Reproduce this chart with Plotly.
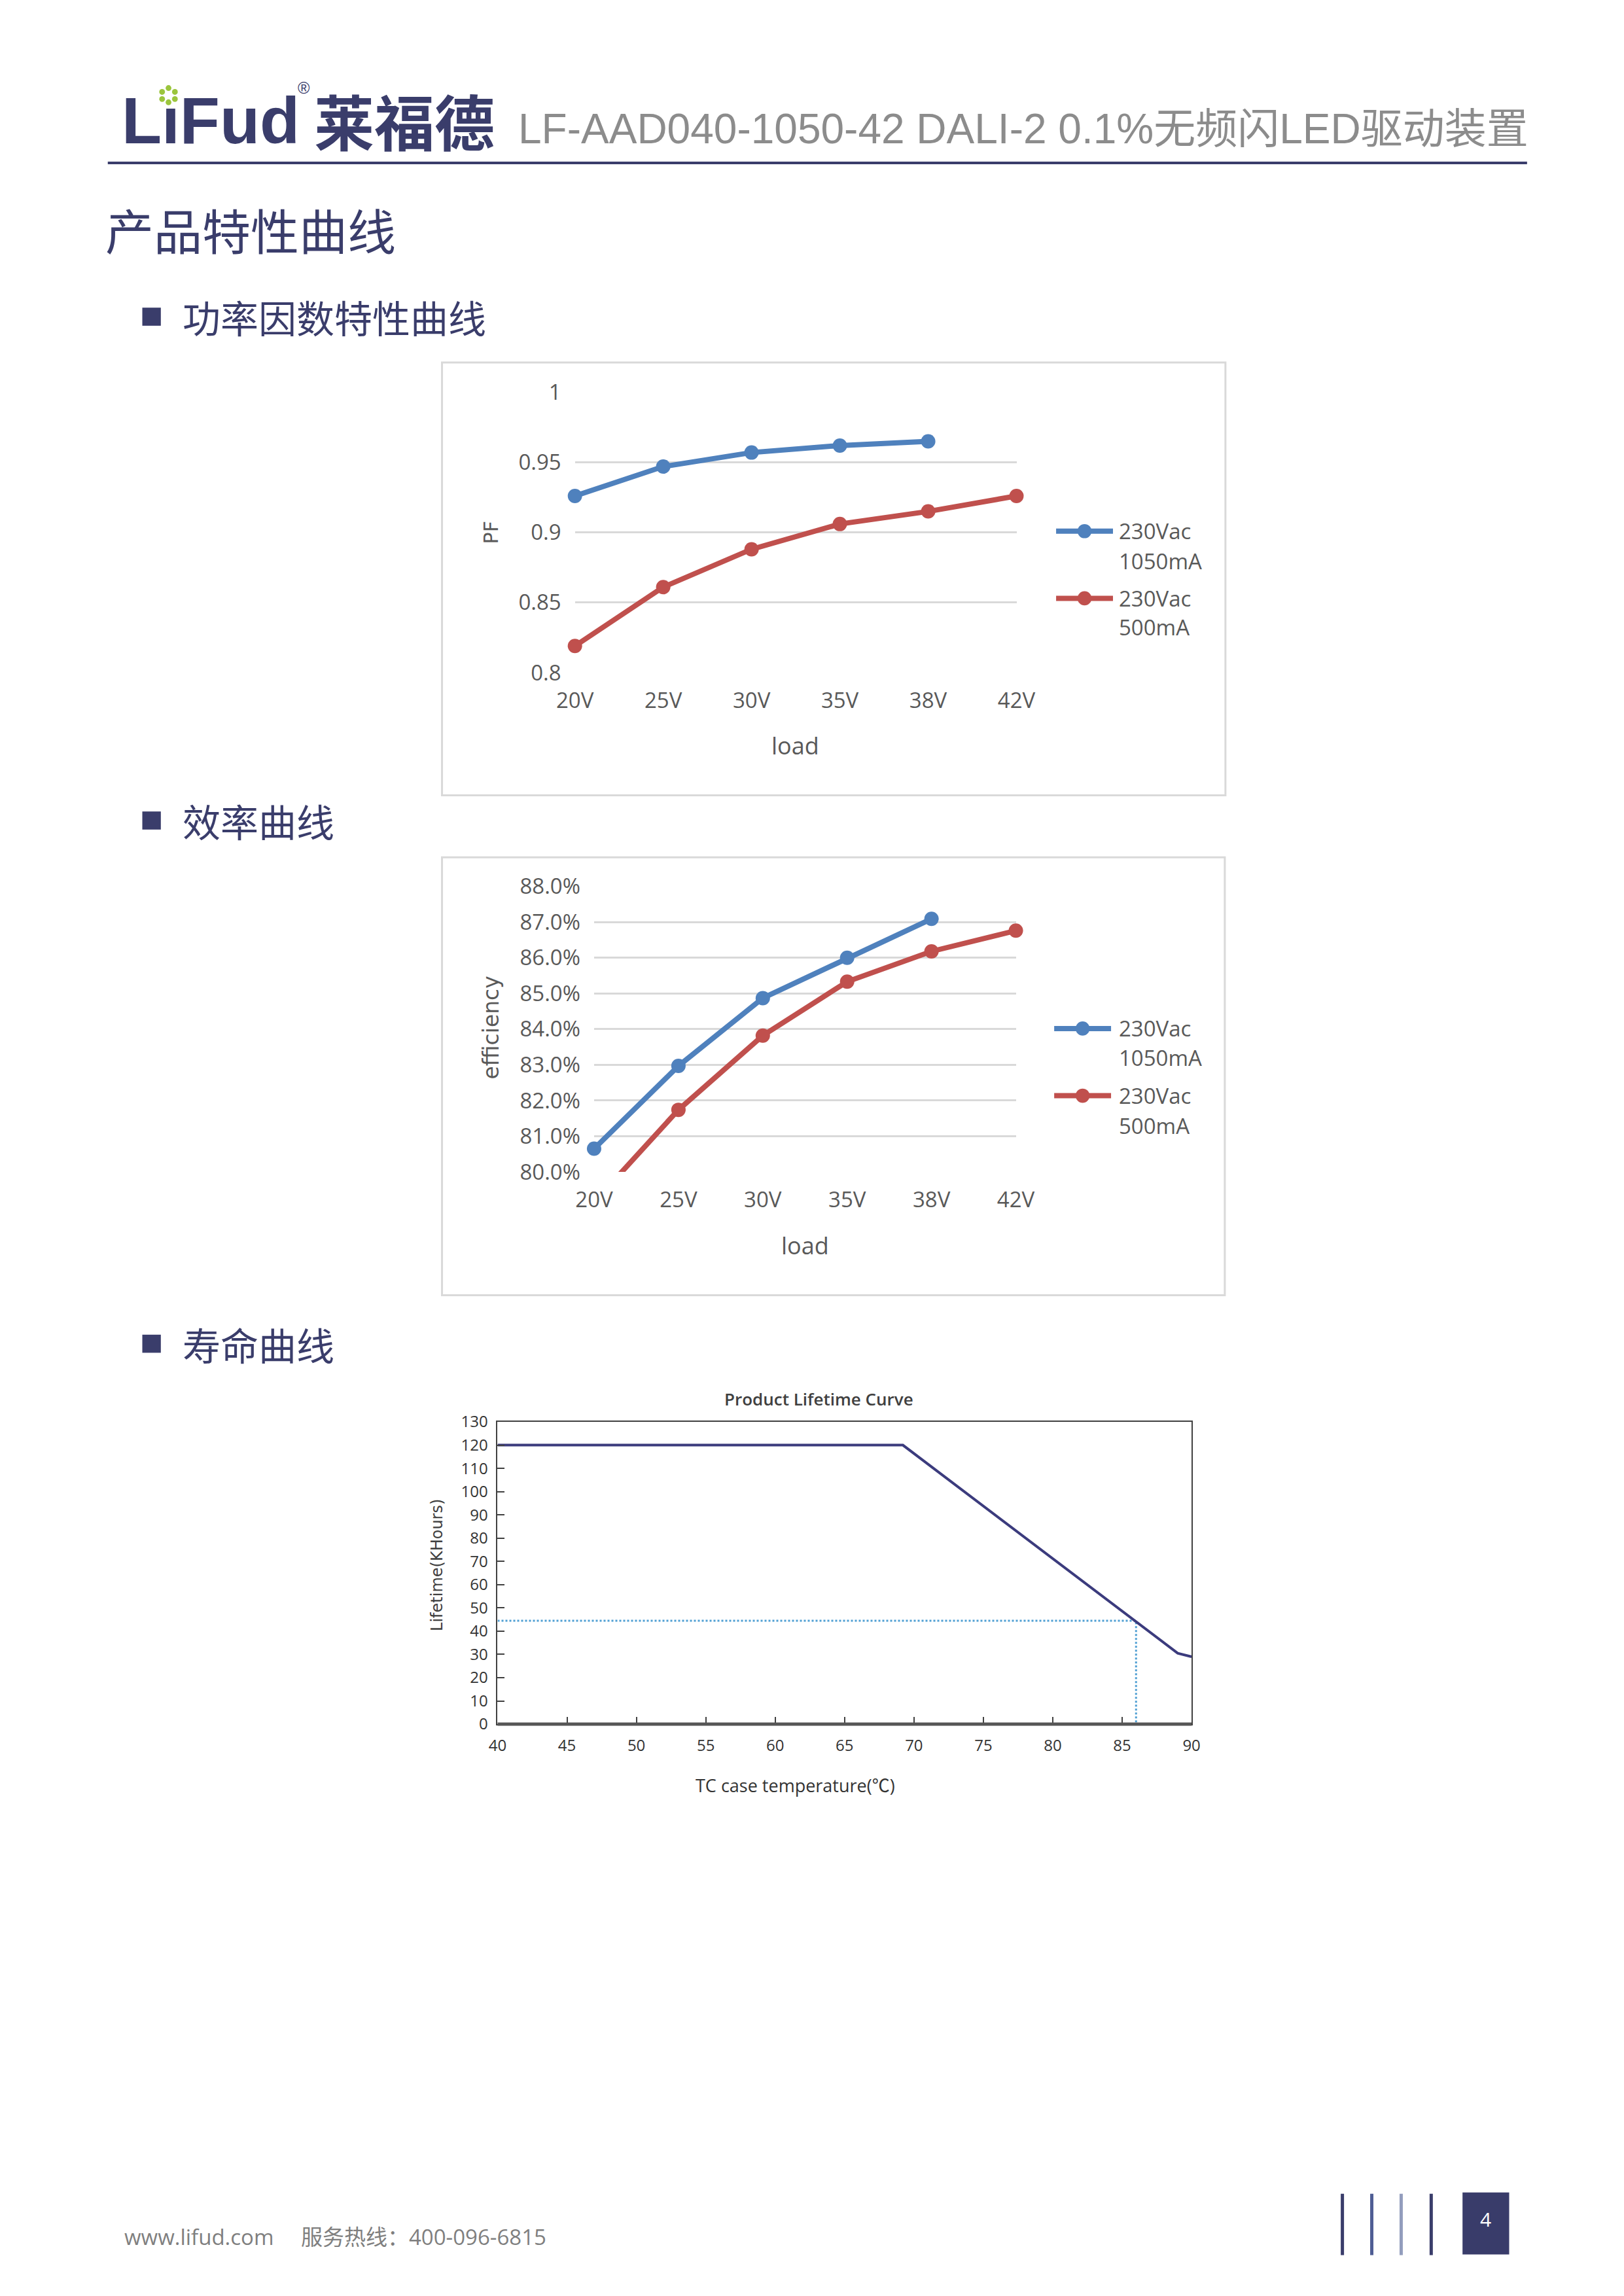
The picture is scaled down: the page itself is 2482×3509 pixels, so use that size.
import plotly.graph_objects as go

W, H = 2482, 3509

# ---------------- data ----------------
loads = ["20V", "25V", "30V", "35V", "38V", "42V"]
pf_1050 = [0.926, 0.947, 0.957, 0.962, 0.965]
pf_500 = [0.819, 0.861, 0.888, 0.906, 0.915, 0.926]
pf_ticks = [0.8, 0.85, 0.9, 0.95, 1.0]
pf_tick_labels = ["0.8", "0.85", "0.9", "0.95", "1"]

eff_1050 = [80.65, 82.97, 84.87, 86.00, 87.09]
eff_500 = [79.15, 81.74, 83.82, 85.33, 86.18, 86.76]
eff_ticks = [80, 81, 82, 83, 84, 85, 86, 87, 88]
eff_tick_labels = ["80.0%", "81.0%", "82.0%", "83.0%", "84.0%", "85.0%", "86.0%", "87.0%", "88.0%"]

series_1050 = ["230Vac", "1050mA"]
series_500 = ["230Vac", "500mA"]

temp_c = [40, 69.2, 89, 90]
life_kh = [120, 120, 30.5, 29]
ref_temp = [40, 86, 86]
ref_life = [44.5, 44.5, 0]
temp_ticks = [40, 45, 50, 55, 60, 65, 70, 75, 80, 85, 90]
life_ticks = [0, 10, 20, 30, 40, 50, 60, 70, 80, 90, 100, 110, 120, 130]

# ---------------- styles ----------------
BLUE = "#4F81BD"
RED = "#C0504D"
NAVY = "#3A3D6B"
GRID = "#D9D9D9"
TXT = "#595959"
TICKFONT = dict(family="Open Sans, Noto Sans", size=33, color=TXT)
LIFEFONT = dict(family="Open Sans, Noto Sans", size=24, color="#333333")


def X(px):
    return px / W


def Y(py):
    return 1 - py / H


fig = go.Figure()

# ---------- chart 1: PF ----------
fig.add_trace(go.Scatter(x=loads[:len(pf_1050)], y=pf_1050, mode="lines+markers",
                         line=dict(color=BLUE, width=8), marker=dict(size=22, color=BLUE),
                         cliponaxis=False, xaxis="x", yaxis="y", showlegend=False))
fig.add_trace(go.Scatter(x=loads, y=pf_500, mode="lines+markers",
                         line=dict(color=RED, width=8), marker=dict(size=22, color=RED),
                         cliponaxis=False, xaxis="x", yaxis="y", showlegend=False))

# ---------- chart 2: efficiency ----------
fig.add_trace(go.Scatter(x=loads[:len(eff_1050)], y=eff_1050, mode="lines+markers",
                         line=dict(color=BLUE, width=8), marker=dict(size=22, color=BLUE),
                         cliponaxis=False, xaxis="x2", yaxis="y2", showlegend=False))
fig.add_trace(go.Scatter(x=loads, y=eff_500, mode="lines+markers",
                         line=dict(color=RED, width=8),
                         marker=dict(size=22, color=RED,
                                     opacity=[0 if v < eff_ticks[0] else 1 for v in eff_500]),
                         cliponaxis=False, xaxis="x2", yaxis="y2", showlegend=False))

# ---------- chart 3: lifetime ----------
fig.add_trace(go.Scatter(x=ref_temp, y=ref_life, mode="lines",
                         line=dict(color="#4F9FD3", width=3, dash="dot"),
                         xaxis="x3", yaxis="y3", showlegend=False))
fig.add_trace(go.Scatter(x=temp_c, y=life_kh, mode="lines",
                         line=dict(color="#3B3B7D", width=4),
                         xaxis="x3", yaxis="y3", showlegend=False))

layout = dict(
    width=W, height=H, margin=dict(l=0, r=0, t=0, b=0),
    paper_bgcolor="white", plot_bgcolor="white", showlegend=False,
    xaxis=dict(domain=[X(870), X(1561)], anchor="y", type="category", range=[0, 5],
               showgrid=False, zeroline=False, showline=False, ticks="",
               tickfont=TICKFONT, ticklabelstandoff=20),
    yaxis=dict(domain=[Y(1018), Y(584)], anchor="x", range=[0.8, 1.0],
               tickmode="array", tickvals=pf_ticks, ticktext=pf_tick_labels,
               showgrid=True, gridcolor=GRID, gridwidth=3, zeroline=False, showline=False,
               ticks="", tickfont=TICKFONT, ticklabelstandoff=20),
    xaxis2=dict(domain=[X(900), X(1560)], anchor="y2", type="category", range=[0, 5],
                showgrid=False, zeroline=False, showline=False, ticks="",
                tickfont=TICKFONT, ticklabelstandoff=20),
    yaxis2=dict(domain=[Y(1791), Y(1349)], anchor="x2", range=[80, 88],
                tickmode="array", tickvals=eff_ticks, ticktext=eff_tick_labels,
                showgrid=True, gridcolor=GRID, gridwidth=3, zeroline=False, showline=False,
                ticks="", tickfont=TICKFONT, ticklabelstandoff=20),
    xaxis3=dict(domain=[X(749), X(1835)], anchor="y3", range=[40, 90],
                tickmode="array", tickvals=temp_ticks,
                showgrid=False, zeroline=False, showline=True, mirror=True,
                linecolor="#404040", linewidth=2, ticks="inside", ticklen=11,
                tickwidth=2, tickcolor="#404040",
                tickfont=LIFEFONT, ticklabelstandoff=10),
    yaxis3=dict(domain=[Y(2646), Y(2178)], anchor="x3", range=[0, 130],
                tickmode="array", tickvals=life_ticks,
                showgrid=False, zeroline=False, showline=True, mirror=True,
                linecolor="#404040", linewidth=2, ticks="inside", ticklen=11,
                tickwidth=2, tickcolor="#404040",
                tickfont=LIFEFONT, ticklabelstandoff=8),
)
fig.update_layout(**layout)

shapes = []
annotations = []


def text(px, py, s, size, color, family="Open Sans, Noto Sans CJK SC", xanchor="left",
         yanchor="middle", angle=0, weight="normal"):
    annotations.append(dict(x=X(px), y=Y(py), xref="paper", yref="paper", text=s,
                            showarrow=False, xanchor=xanchor, yanchor=yanchor,
                            textangle=angle, borderpad=0,
                            font=dict(family=family, size=size, color=color, weight=weight)))


def rect(x0, y0, x1, y1, fill=None, line_color=None, line_width=0):
    shapes.append(dict(type="rect", xref="paper", yref="paper", x0=X(x0), x1=X(x1),
                       y0=Y(y1), y1=Y(y0), fillcolor=fill if fill else "rgba(0,0,0,0)",
                       line=dict(color=line_color if line_color else "rgba(0,0,0,0)",
                                 width=line_width), layer="below"))


def hline(x0, x1, y, color, width, layer="above"):
    shapes.append(dict(type="line", xref="paper", yref="paper", x0=X(x0), x1=X(x1),
                       y0=Y(y), y1=Y(y), line=dict(color=color, width=width), layer=layer))


def vline(x, y0, y1, color, width):
    shapes.append(dict(type="line", xref="paper", yref="paper", x0=X(x), x1=X(x),
                       y0=Y(y0), y1=Y(y1), line=dict(color=color, width=width)))


def circle(cx, cy, r, color):
    shapes.append(dict(type="circle", xref="paper", yref="paper", x0=X(cx - r), x1=X(cx + r),
                       y0=Y(cy + r), y1=Y(cy - r), fillcolor=color, line=dict(width=0)))


# ---------- header ----------
text(160, 163, "LıFud", 100, NAVY, family="Liberation Sans, Arial", weight="bold")
for dx, dy in [(0, -11), (0, 11), (-10, -5), (10, -5), (-10, 6), (10, 6)]:
    circle(234 + dx, 124 + dy, 4.5, "#9BC53D")
text(446, 112, "®", 25, NAVY, family="Liberation Sans", xanchor="center")
text(461, 162, "莱福德", 92, NAVY, family="Noto Sans CJK SC", weight="bold")
text(780, 176, "LF-AAD040-1050-42 DALI-2 0.1%无频闪LED驱动装置", 64, "#8C8C8C",
     family="Liberation Sans, Noto Sans CJK SC")
hline(139, 2360, 229, NAVY, 4)

# ---------- headings ----------
text(134, 331, "产品特性曲线", 74, NAVY, family="Noto Sans CJK SC")
for cy, s in [(467, "功率因数特性曲线"), (1247, "效率曲线"), (2057, "寿命曲线")]:
    rect(193, cy - 14, 222, cy + 14, fill=NAVY)
    text(255, cy, s, 58, NAVY, family="Noto Sans CJK SC")

# ---------- chart boxes ----------
rect(662, 538, 1888, 1208, line_color=GRID, line_width=3)
rect(662, 1304, 1887, 1982, line_color=GRID, line_width=3)

# axis titles charts 1/2
text(739, 801, "PF", 30, TXT, family="DejaVu Sans", xanchor="center", angle=-90)
text(1215, 1131, "load", 36, TXT, xanchor="center")
text(739, 1568, "efficiency", 33, TXT, family="DejaVu Sans", xanchor="center", angle=-90)
text(1230, 1905, "load", 36, TXT, xanchor="center")


def legend_item(x0, x1, y, color, lines, ys):
    hline(x0, x1, y, color, 8)
    circle((x0 + x1) / 2, y, 11, color)
    for s, yy in zip(lines, ys):
        text(1720, yy, s, 33, TXT)


legend_item(1623, 1712, 799, BLUE, series_1050, [799, 845])
legend_item(1623, 1712, 903, RED, series_500, [903, 948])
legend_item(1620, 1709, 1569, BLUE, series_1050, [1569, 1614])
legend_item(1620, 1709, 1673, RED, series_500, [1673, 1720])

# lifetime chart labels
text(1252, 2142, "Product Lifetime Curve", 26, "#404040", xanchor="center", weight=600)
text(1215, 2741, "TC case temperature(℃)", 27, "#333333", xanchor="center",
     family="Open Sans, Noto Sans CJK SC")
text(655, 2400, "Lifetime(KHours)", 24, "#404040", family="DejaVu Sans", xanchor="center",
     angle=-90)
shapes.append(dict(type="line", xref="x3 domain", yref="y3 domain", x0=0, x1=1, y0=0, y1=0,
                   line=dict(color="#555555", width=5)))

# ---------- footer ----------
text(164, 3440, "www.lifud.com", 33, "#7F7F7F")
text(440, 3440, "服务热线：400-096-6815", 33, "#7F7F7F", family="Open Sans, Noto Sans CJK SC")
for x, c in [(2071, "#3A3D6B"), (2117, "#4F5D94"), (2163, "#939DBD"), (2210, "#3A3D6B")]:
    vline(x, 3373, 3468, c, 5)
rect(2259, 3371, 2332, 3467, fill="#393C6A")
text(2295, 3412, "4", 30, "white", xanchor="center")

fig.update_layout(shapes=shapes, annotations=annotations)
fig.write_html("out.html", config={"displayModeBar": False},
               post_script="document.body.style.margin='0';document.body.style.overflow='hidden';")
